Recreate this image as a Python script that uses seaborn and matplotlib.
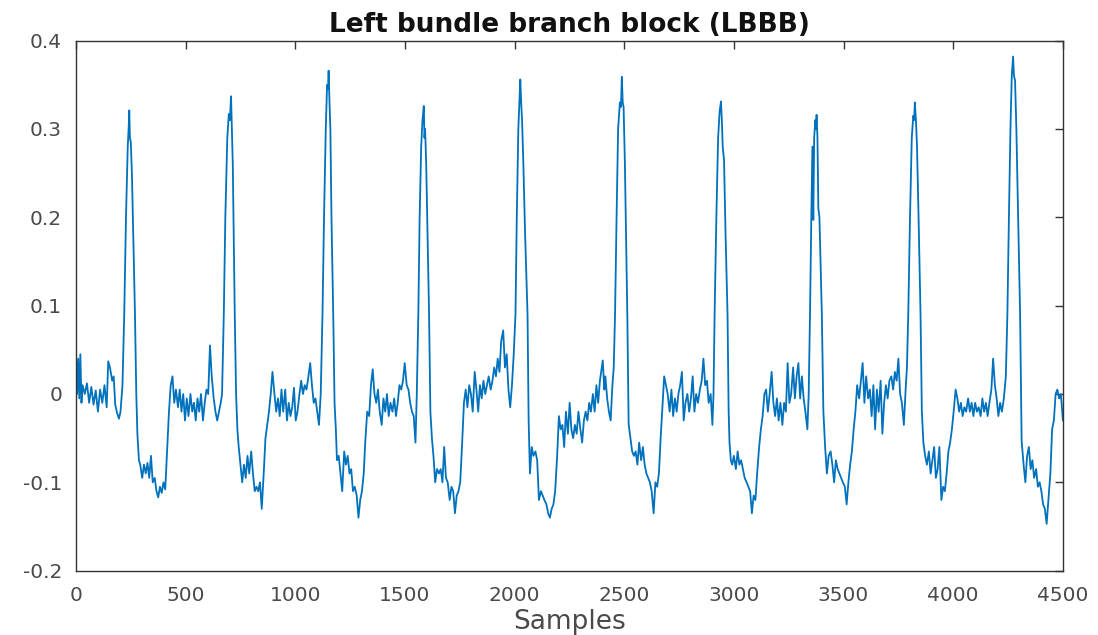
import matplotlib
matplotlib.use("Agg")
import matplotlib.pyplot as plt
import seaborn as sns
import pandas as pd

# ---- data (sample index, amplitude) ----
sample_idx = [
    0, 5, 10, 15, 20, 25, 30, 40, 50, 60, 70, 80, 90, 100, 110, 120, 130, 140, 147, 155, 165, 172, 179, 188, 196, 203,
    212, 220, 228, 236, 240, 243, 246, 250, 255, 261, 269, 275, 280, 287,
    293, 302, 310, 318, 326, 334, 342, 350, 359, 367, 375, 383, 391, 399, 407, 416, 424, 432, 440, 448, 456,
    465, 473, 481, 489, 497, 505, 513, 522, 530, 538, 546, 554, 562, 570, 579, 587, 595, 603, 611, 619, 628, 636, 644, 652, 660,
    666, 674, 681, 690, 697, 702, 707, 711, 715, 719, 724, 730, 736, 742, 750, 758, 766, 774, 782, 790, 799, 807, 815, 823, 831,
    839, 847, 856, 864, 872, 880, 888, 896, 905, 913, 921, 929, 937, 945, 954, 962, 970, 978, 986, 994, 1002, 1010, 1019, 1027,
    1035, 1043, 1051, 1060, 1068, 1076, 1084, 1092, 1100, 1108, 1116,
    1124, 1131, 1139, 1145, 1149, 1152, 1156, 1160, 1165, 1173, 1179, 1185, 1190, 1198, 1206, 1214, 1223, 1231, 1239, 1247, 1255,
    1263, 1271, 1280, 1288, 1296, 1304, 1312, 1320, 1328, 1337, 1345, 1353, 1361, 1369, 1377, 1385, 1394, 1402, 1410, 1418, 1426,
    1434, 1443, 1451, 1459, 1467, 1475, 1483, 1491, 1499, 1508, 1516, 1524, 1532, 1540, 1548, 1554,
    1561, 1567, 1574, 1580, 1586, 1589, 1592, 1597, 1603, 1610, 1616, 1623, 1630, 1638, 1646, 1655, 1663, 1671, 1679, 1687, 1695,
    1704, 1712, 1720, 1728, 1736, 1744, 1752, 1760, 1769, 1777, 1785, 1793, 1801, 1809, 1818, 1826, 1834, 1842, 1850, 1858, 1866,
    1874, 1882, 1891, 1899, 1907, 1915, 1923, 1931, 1939, 1948, 1956, 1964, 1972, 1980, 1988, 1996,
    2004, 2010, 2017, 2022, 2026, 2030, 2034, 2040, 2048, 2059, 2064, 2070, 2078, 2086, 2095, 2103, 2111, 2120, 2128, 2136, 2145,
    2153, 2161, 2169, 2177, 2185, 2194, 2202, 2210, 2218, 2226, 2234, 2243, 2251, 2259, 2267, 2275, 2283, 2291, 2300, 2308, 2316,
    2324, 2332, 2340, 2348, 2357, 2365, 2373, 2381, 2389, 2402, 2409, 2414, 2422, 2430, 2438, 2446, 2452,
    2458, 2465, 2472, 2480, 2485, 2489, 2493, 2497, 2503, 2508, 2514, 2520, 2528, 2536, 2544, 2552, 2560, 2568, 2577, 2585, 2593,
    2601, 2609, 2617, 2625, 2634, 2642, 2650, 2658, 2666, 2674, 2682, 2690, 2698, 2707, 2715, 2723, 2731, 2739, 2747, 2755, 2763,
    2771, 2779, 2788, 2796, 2804, 2812, 2820, 2828, 2836, 2845, 2853, 2861, 2869, 2877, 2885, 2894, 2902, 2907,
    2912, 2920, 2928, 2935, 2941, 2945, 2949, 2955, 2962, 2971, 2976, 2980, 2986, 2992, 3000, 3009, 3017, 3025, 3033, 3041, 3049,
    3058, 3066, 3074, 3082, 3090, 3098, 3106, 3115, 3123, 3131, 3139, 3147, 3155, 3163, 3172, 3180, 3188, 3196, 3204, 3212, 3221,
    3229, 3237, 3245, 3253, 3261, 3270, 3278, 3286, 3294, 3302, 3310, 3318, 3326, 3335, 3341,
    3347, 3353, 3358, 3362, 3366, 3371, 3374, 3377, 3381, 3385, 3390, 3395, 3401, 3408, 3416, 3424, 3432, 3441, 3449, 3457, 3465,
    3473, 3481, 3489, 3497, 3506, 3514, 3522, 3530, 3538, 3546, 3554, 3562, 3571, 3579, 3587, 3595, 3603, 3612, 3620, 3628, 3636,
    3644, 3652, 3660, 3669, 3677, 3685, 3693, 3701, 3709, 3718, 3726, 3734, 3742, 3750, 3758, 3766, 3775, 3783, 3789,
    3795, 3803, 3811, 3818, 3822, 3825, 3830, 3835, 3842, 3851, 3857, 3864, 3872, 3880, 3889, 3897, 3905, 3913, 3921, 3929, 3937,
    3946, 3954, 3962, 3970, 3978, 3986, 3994, 4002, 4011, 4019, 4027, 4035, 4043, 4051, 4059, 4068, 4076, 4084, 4092, 4100, 4108,
    4116, 4125, 4133, 4141, 4149, 4157, 4165, 4174, 4182, 4190, 4198, 4206, 4214, 4222, 4231, 4240,
    4247, 4254, 4261, 4267, 4273, 4277, 4282, 4288, 4296, 4305, 4312, 4321, 4329, 4337, 4345, 4353, 4361, 4369, 4378, 4386, 4394,
    4402, 4410, 4418, 4426, 4434, 4443, 4451, 4459, 4467, 4475, 4483, 4491, 4500,
]

amplitude = [
    0.045, 0.0, 0.04, -0.005, 0.045, -0.01, 0.01, 0.0, 0.012, -0.01, 0.008, -0.012, 0.004, -0.02, 0.005, -0.01, 0.01, -0.015, 0.037, 0.03, 0.015, 0.02, -0.012, -0.022, -0.028, -0.02,
    0.01, 0.09, 0.2, 0.28, 0.30, 0.321, 0.29, 0.285, 0.25, 0.18, 0.09, 0.0, -0.045, -0.075,
    -0.08, -0.095, -0.08, -0.09, -0.078, -0.095, -0.07, -0.1, -0.095, -0.11, -0.117, -0.105, -0.112, -0.1, -0.108, -0.06, -0.02, 0.01, 0.02, -0.01, 0.005,
    -0.015, 0.005, -0.02, 0.0, -0.03, -0.005, -0.025, 0.0, -0.02, -0.01, -0.03, -0.005, -0.02, 0.0, -0.03, -0.01, 0.005, 0.0, 0.055, 0.02, -0.005, -0.02, -0.03, -0.02, -0.01,
    0.0, 0.09, 0.2, 0.29, 0.317, 0.31, 0.337, 0.3, 0.26, 0.18, 0.09, 0.0, -0.04, -0.06, -0.08, -0.1, -0.08, -0.095, -0.07, -0.09, -0.065, -0.09, -0.11, -0.105, -0.11,
    -0.1, -0.13, -0.09, -0.05, -0.035, -0.02, 0.0, 0.025, 0.0, -0.02, -0.005, -0.025, 0.005, -0.02, 0.005, -0.03, -0.01, -0.025, -0.015, 0.007, -0.03, -0.02, 0.0, 0.015,
    0.0, 0.01, 0.005, 0.02, 0.035, 0.01, -0.01, -0.005, -0.02, -0.035, 0.0,
    0.09, 0.2, 0.3, 0.35, 0.345, 0.366, 0.33, 0.3, 0.2, 0.09, -0.01, -0.04, -0.075, -0.07, -0.09, -0.11, -0.065, -0.08, -0.07, -0.09, -0.085,
    -0.11, -0.105, -0.115, -0.14, -0.12, -0.11, -0.09, -0.05, -0.02, -0.025, 0.01, 0.028, 0.0, -0.01, 0.005, -0.02, -0.035, -0.005, -0.02, 0.0, -0.025,
    -0.01, -0.02, -0.005, -0.025, -0.01, 0.01, 0.005, 0.015, 0.035, 0.01, 0.005, -0.01, -0.02, -0.025, -0.055, 0.0,
    0.09, 0.2, 0.28, 0.31, 0.326, 0.29, 0.30, 0.26, 0.18, 0.09, -0.02, -0.05, -0.07, -0.1, -0.085, -0.09, -0.085, -0.1, -0.06, -0.095, -0.1,
    -0.12, -0.105, -0.11, -0.135, -0.115, -0.11, -0.1, -0.06, -0.01, 0.005, -0.015, 0.01, 0.0, -0.02, 0.025, 0.005, -0.02, 0.01, -0.005, 0.015, 0.0,
    0.01, 0.02, 0.005, 0.015, 0.03, 0.02, 0.04, 0.025, 0.06, 0.072, 0.03, 0.045, 0.005, -0.015, 0.01, 0.045,
    0.09, 0.2, 0.3, 0.33, 0.356, 0.33, 0.31, 0.26, 0.18, 0.09, -0.03, -0.09, -0.06, -0.07, -0.065, -0.075, -0.12, -0.11, -0.115, -0.12, -0.125,
    -0.135, -0.14, -0.13, -0.125, -0.11, -0.07, -0.025, -0.04, -0.035, -0.06, -0.02, -0.045, -0.01, -0.04, -0.05, -0.035, -0.045, -0.02, -0.04, -0.055, -0.03,
    -0.02, -0.03, -0.01, -0.02, 0.0, -0.02, 0.01, -0.01, 0.015, 0.038, 0.005, 0.02, -0.005, -0.02, -0.03, 0.01, 0.03,
    0.09, 0.2, 0.3, 0.33, 0.325, 0.359, 0.33, 0.325, 0.26, 0.18, 0.09, -0.034, -0.05, -0.065, -0.07, -0.065, -0.08, -0.055, -0.075, -0.06, -0.08,
    -0.09, -0.095, -0.1, -0.11, -0.135, -0.1, -0.105, -0.09, -0.05, -0.015, 0.02, 0.01, 0.0, -0.02, 0.005, -0.025, -0.005, -0.02, 0.0, 0.01, 0.025,
    -0.03, -0.01, 0.0, -0.02, -0.005, 0.02, -0.02, 0.0, -0.01, 0.005, 0.015, 0.04, 0.01, 0.015, -0.01, 0.0, -0.035, 0.0,
    0.09, 0.2, 0.29, 0.32, 0.331, 0.31, 0.28, 0.265, 0.18, 0.09, -0.02, -0.055, -0.075, -0.08, -0.07, -0.085, -0.065, -0.08, -0.075, -0.085, -0.095,
    -0.1, -0.105, -0.11, -0.135, -0.115, -0.12, -0.09, -0.06, -0.04, -0.025, 0.0, 0.005, -0.02, 0.0, 0.025, -0.01, -0.025, -0.005, -0.03, -0.01, -0.035,
    -0.01, -0.02, 0.035, -0.01, 0.0, 0.03, -0.005, 0.02, 0.035, -0.005, 0.02, -0.005, -0.02, -0.04, 0.0,
    0.09, 0.2, 0.28, 0.197, 0.29, 0.31, 0.30, 0.316, 0.29, 0.21, 0.2, 0.15, 0.09, -0.02, -0.06, -0.09, -0.07, -0.065, -0.08, -0.1, -0.075,
    -0.085, -0.09, -0.095, -0.1, -0.105, -0.125, -0.1, -0.08, -0.065, -0.04, -0.02, 0.01, -0.005, 0.015, 0.035, -0.01, 0.02, -0.005, 0.005, -0.025, 0.01,
    -0.04, 0.005, -0.02, 0.015, -0.045, -0.01, 0.01, -0.005, 0.015, 0.02, 0.005, 0.025, 0.015, 0.04, 0.0, -0.01, -0.035, 0.005, 0.03,
    0.09, 0.2, 0.29, 0.315, 0.31, 0.33, 0.31, 0.28, 0.2, 0.09, -0.02, -0.055, -0.07, -0.08, -0.065, -0.09, -0.075, -0.06, -0.095, -0.085, -0.06,
    -0.12, -0.105, -0.11, -0.09, -0.065, -0.055, -0.04, -0.02, 0.005, -0.005, -0.02, -0.01, -0.025, -0.015, -0.02, -0.005, -0.02, -0.01, -0.025, -0.01, -0.02,
    -0.015, -0.025, -0.005, -0.02, -0.01, -0.025, -0.01, 0.005, 0.04, 0.01, -0.005, -0.025, -0.01, -0.02, -0.005, 0.02,
    0.09, 0.2, 0.3, 0.36, 0.382, 0.36, 0.355, 0.3, 0.2, 0.09, -0.053, -0.08, -0.1, -0.07, -0.06, -0.085, -0.075, -0.095, -0.085, -0.105, -0.1,
    -0.11, -0.125, -0.13, -0.147, -0.12, -0.09, -0.04, -0.03, 0.0, 0.005, -0.005, 0.0, -0.03,
]

x_ticks = [0, 500, 1000, 1500, 2000, 2500, 3000, 3500, 4000, 4500]
y_ticks = [-0.2, -0.1, 0.0, 0.1, 0.2, 0.3, 0.4]
y_tick_labels = ["-0.2", "-0.1", "0", "0.1", "0.2", "0.3", "0.4"]
title_text = "Left bundle branch block (LBBB)"
x_label = "Samples"

df = pd.DataFrame({"Samples": sample_idx, "Amplitude": amplitude})

sns.set_theme(style="white")
plt.rcParams["font.family"] = ["DejaVu Sans"]
plt.rcParams["axes.unicode_minus"] = False

fig = plt.figure(figsize=(10.98, 6.35), dpi=100)
ax = fig.add_axes([0.0692, 0.1013, 0.8988, 0.8347])

sns.lineplot(data=df, x="Samples", y="Amplitude", ax=ax, color="#0072BD",
             linewidth=1.3, estimator=None, sort=False)

ax.set_xlim(0, 4500)
ax.set_ylim(-0.2, 0.4)
ax.set_xticks(x_ticks)
ax.set_xticklabels([str(t) for t in x_ticks])
ax.set_yticks(y_ticks)
ax.set_yticklabels(y_tick_labels)

ax.tick_params(axis="both", direction="in", top=True, right=True, length=6,
               width=1.0, color="#333333", labelsize=14.5, labelcolor="#4a4a4a")
ax.tick_params(axis="x", pad=11)
ax.tick_params(axis="y", pad=10)

for side in ["left", "bottom", "top", "right"]:
    ax.spines[side].set_visible(True)
    ax.spines[side].set_color("#333333")
    ax.spines[side].set_linewidth(1.0)

ax.set_title(title_text, fontsize=19, fontweight="bold", color="#111111", pad=6)
ax.set_xlabel(x_label, fontsize=19, color="#4a4a4a", labelpad=3)
ax.set_ylabel("")

fig.savefig("out.png", dpi=100, facecolor="white")
